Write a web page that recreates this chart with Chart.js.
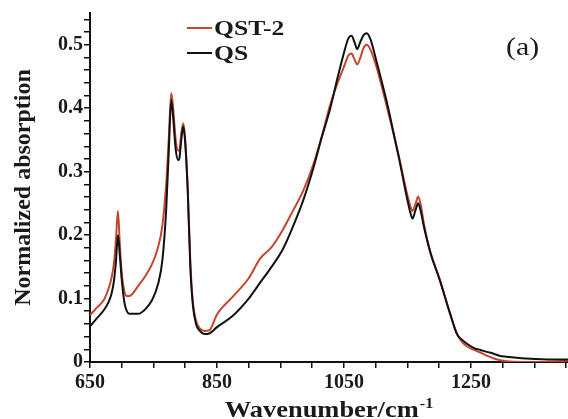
<!DOCTYPE html>
<html>
<head>
<meta charset="utf-8">
<script src="https://cdn.jsdelivr.net/npm/chart.js@4"></script>
<style>
  html, body { margin: 0; padding: 0; background: #fff; }
  #wrap { width: 568px; height: 419px; }
</style>
</head>
<body>
<div id="wrap"><canvas id="ftir"></canvas></div>
<script>
// wavenumber (cm-1) sampling shared by both spectra
const wavenumbers = [650, 660, 672, 679, 684, 688, 691, 694, 697, 700, 704, 708, 712, 726, 737, 748, 757, 764, 770, 774, 778, 781, 785, 789, 791, 794, 797, 800, 804, 808, 812, 817, 823, 830, 838, 850, 875, 900, 918, 936, 954, 970, 986, 1002, 1015, 1028, 1040, 1050, 1057, 1062, 1067, 1071, 1076, 1081, 1086, 1092, 1101, 1117, 1122, 1138, 1149, 1154, 1158, 1163, 1167, 1171, 1176, 1186, 1201, 1217, 1228, 1235, 1245, 1255, 1265, 1275, 1285, 1295, 1306, 1330, 1360, 1403];

const qst2 = [0.074, 0.085, 0.098, 0.115, 0.133, 0.158, 0.195, 0.238, 0.185, 0.140, 0.112, 0.104, 0.104, 0.120, 0.135, 0.155, 0.180, 0.215, 0.280, 0.350, 0.424, 0.400, 0.350, 0.333, 0.335, 0.362, 0.376, 0.350, 0.270, 0.160, 0.095, 0.065, 0.053, 0.049, 0.050, 0.075, 0.103, 0.132, 0.163, 0.181, 0.209, 0.239, 0.270, 0.312, 0.355, 0.404, 0.440, 0.465, 0.483, 0.486, 0.476, 0.469, 0.480, 0.495, 0.500, 0.492, 0.466, 0.405, 0.385, 0.318, 0.267, 0.248, 0.238, 0.250, 0.261, 0.248, 0.218, 0.174, 0.130, 0.077, 0.045, 0.033, 0.024, 0.019, 0.015, 0.010, 0.006, 0.003, 0.001, 0.000, 0.000, 0.002];

const qs = [0.056, 0.068, 0.082, 0.094, 0.108, 0.130, 0.160, 0.200, 0.168, 0.130, 0.095, 0.080, 0.076, 0.076, 0.083, 0.098, 0.122, 0.160, 0.240, 0.330, 0.413, 0.385, 0.335, 0.318, 0.322, 0.352, 0.371, 0.345, 0.270, 0.150, 0.090, 0.060, 0.049, 0.044, 0.045, 0.055, 0.073, 0.100, 0.125, 0.150, 0.178, 0.214, 0.255, 0.306, 0.354, 0.398, 0.448, 0.487, 0.510, 0.514, 0.503, 0.493, 0.505, 0.515, 0.518, 0.508, 0.475, 0.412, 0.390, 0.315, 0.260, 0.238, 0.226, 0.240, 0.250, 0.238, 0.213, 0.173, 0.129, 0.077, 0.044, 0.036, 0.028, 0.022, 0.019, 0.016, 0.0135, 0.010, 0.0084, 0.006, 0.0045, 0.004];

const seriesNames = ['QST-2', 'QS'];
const seriesColors = ['#c4462f', '#111111'];
const xLabelTicks = [650, 850, 1050, 1250];

const SERIF = "'Liberation Serif', 'Times New Roman', serif";

function toPoints(vals) {
  return wavenumbers.map((w, i) => ({ x: w, y: vals[i] }));
}

// axis titles, legend and panel tag
const decor = {
  id: 'decor',
  afterDraw(chart) {
    const ctx = chart.ctx;
    const area = chart.chartArea;
    ctx.save();
    ctx.fillStyle = '#1a1a1a';

    // y title
    ctx.save();
    ctx.translate(24, (area.top + area.bottom) / 2);
    ctx.rotate(-Math.PI / 2);
    ctx.font = 'bold 24px ' + SERIF;
    ctx.textAlign = 'center';
    ctx.textBaseline = 'middle';
    ctx.fillText('Normalized absorption', 0, 0);
    ctx.restore();

    // x title with superscript
    ctx.save();
    const main = 'Wavenumber/cm';
    ctx.font = 'bold 14px ' + SERIF;
    const supW = ctx.measureText('-1').width;
    ctx.font = 'bold 23px ' + SERIF;
    const mainW = ctx.measureText(main).width;
    const sx = 1.15;
    const total = (mainW + supW + 1) * sx;
    const cx = (area.left + area.right) / 2;
    ctx.translate(cx - total / 2, 417);
    ctx.scale(sx, 1);
    ctx.textBaseline = 'alphabetic';
    ctx.textAlign = 'left';
    ctx.fillText(main, 0, 0);
    ctx.font = 'bold 14px ' + SERIF;
    ctx.fillText('-1', mainW + 1, -9);
    ctx.restore();

    // legend
    const rows = [28, 53];
    seriesNames.forEach((name, i) => {
      ctx.strokeStyle = seriesColors[i];
      ctx.lineWidth = 2;
      ctx.beginPath();
      ctx.moveTo(187, rows[i]);
      ctx.lineTo(212, rows[i]);
      ctx.stroke();
      ctx.save();
      ctx.translate(214, rows[i] + 7);
      ctx.scale(1.28, 1);
      ctx.font = 'bold 20px ' + SERIF;
      ctx.textBaseline = 'alphabetic';
      ctx.fillText(name, 0, 0);
      ctx.restore();
    });

    // panel tag
    ctx.save();
    ctx.translate(506, 55);
    ctx.scale(1.15, 1);
    ctx.font = '26px ' + SERIF;
    ctx.textBaseline = 'alphabetic';
    ctx.fillText('(a)', 0, 0);
    ctx.restore();

    ctx.restore();
  }
};

new Chart(document.getElementById('ftir'), {
  type: 'line',
  data: {
    datasets: [
      {
        label: seriesNames[1],
        data: toPoints(qs),
        borderColor: seriesColors[1],
        borderWidth: 2,
        pointRadius: 0,
        cubicInterpolationMode: 'monotone',
        order: 0,
      },
      {
        label: seriesNames[0],
        data: toPoints(qst2),
        borderColor: seriesColors[0],
        borderWidth: 2,
        pointRadius: 0,
        cubicInterpolationMode: 'monotone',
        order: 1,
      },
    ],
  },
  options: {
    responsive: true,
    maintainAspectRatio: false,
    animation: false,
    layout: { padding: { top: 13, right: 0, left: 0, bottom: 0 } },
    plugins: {
      legend: { display: false },
      tooltip: { enabled: false },
    },
    scales: {
      x: {
        type: 'linear',
        min: 650,
        max: 1403,
        border: { color: '#111', width: 2 },
        grid: { drawOnChartArea: false, drawTicks: true, tickLength: 6, color: '#111', lineWidth: 1.5 },
        ticks: {
          stepSize: 50,
          includeBounds: false,
          autoSkip: false,
          maxRotation: 0,
          padding: 3,
          color: '#1a1a1a',
          font: { family: SERIF, weight: 'bold', size: 20 },
          callback: v => (xLabelTicks.includes(v) ? String(v) : ''),
        },
        afterFit(scale) {
          scale.height = 57;
          scale.paddingLeft = 0;
          scale.paddingRight = 0;
        },
      },
      y: {
        min: 0,
        max: 0.55,
        border: { color: '#111', width: 2 },
        grid: { drawOnChartArea: false, drawTicks: true, tickLength: 6, color: '#111', lineWidth: 1.5 },
        ticks: {
          stepSize: 0.02,
          includeBounds: false,
          autoSkip: false,
          padding: 1,
          color: '#1a1a1a',
          font: { family: SERIF, weight: 'bold', size: 20 },
          callback: v => {
            const t = Math.round(v * 100);
            if (t % 10 !== 0) return '';
            return t === 0 ? '0' : (t / 100).toFixed(1);
          },
        },
        afterFit(scale) {
          scale.width = 90;
          scale.paddingTop = 0;
          scale.paddingBottom = 0;
        },
      },
    },
  },
  plugins: [decor],
});
</script>
</body>
</html>
